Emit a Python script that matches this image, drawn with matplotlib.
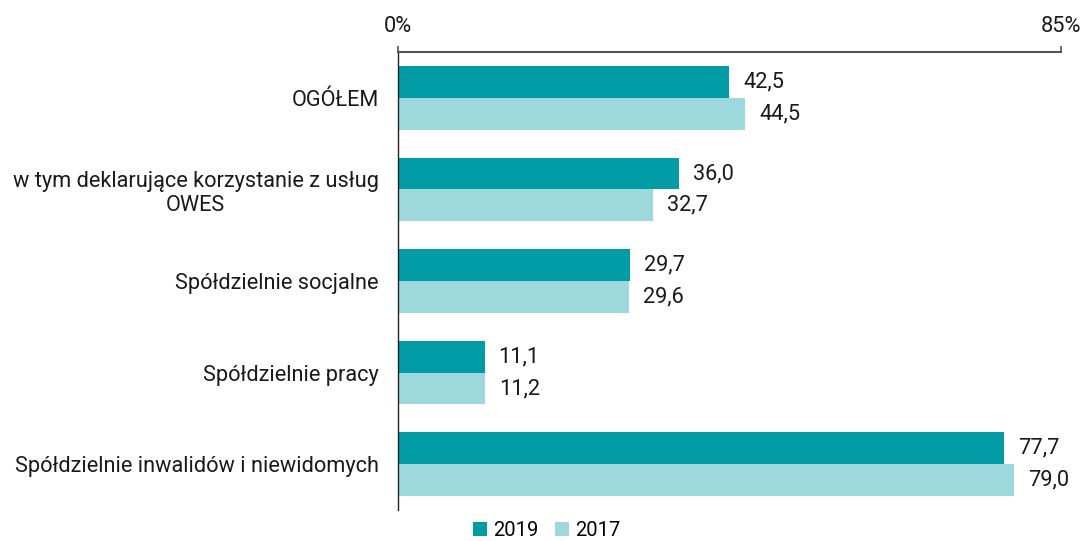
import matplotlib.pyplot as plt
import numpy as np

# ── Data ─────────────────────────────────────────────────────────────────────
categories = [
    "OGÓŁEM",
    "w tym deklarujące korzystanie z usług\nOWES",
    "Spółdzielnie socjalne",
    "Spółdzielnie pracy",
    "Spółdzielnie inwalidów i niewidomych",
]
values_2019 = [42.5, 36.0, 29.7, 11.1, 77.7]
values_2017 = [44.5, 32.7, 29.6, 11.2, 79.0]
series_labels = ["2019", "2017"]

plt.rcParams['font.family'] = ['Roboto', 'DejaVu Sans']
FS = 15.7

fig = plt.figure(figsize=(10.8, 5.41), dpi=100)
ax = fig.add_axes([0.3685, 0.0573, 0.6139, 0.8466])

y = np.arange(len(categories))
h = 0.348
dark = '#009BA5'
light = '#9DD9DC'

ax.barh(y - h / 2, values_2019, height=h, color=dark, label=series_labels[0])
ax.barh(y + h / 2, values_2017, height=h, color=light, label=series_labels[1])

# value labels, offset ~14 px from bar end
for yi, v in zip(y, values_2019):
    ax.annotate(f"{v:.1f}".replace('.', ','), (v, yi - h / 2), xytext=(10, 0),
                textcoords='offset points', va='center', ha='left', fontsize=FS, color='#1a1a1a')
for yi, v in zip(y, values_2017):
    ax.annotate(f"{v:.1f}".replace('.', ','), (v, yi + h / 2), xytext=(10, 0),
                textcoords='offset points', va='center', ha='left', fontsize=FS, color='#1a1a1a')

ax.set_xlim(0, 85)
ax.set_ylim(4.5, -0.5)
ax.xaxis.tick_top()
ax.set_xticks([0, 85])
ax.set_xticklabels(["0%", "85%"], fontsize=FS, color='#1a1a1a')
ax.tick_params(axis='x', direction='out', length=4, width=1.2, color='#555555', pad=7)
ax.set_yticks(y)
ax.set_yticklabels(categories, fontsize=FS, color='#1a1a1a', ha='right', multialignment='center')
ax.tick_params(axis='y', length=0, pad=14)

for side in ['right', 'bottom']:
    ax.spines[side].set_visible(False)
ax.spines['top'].set_color('#555555')
ax.spines['top'].set_linewidth(1.5)
ax.spines['left'].set_color('#222222')
ax.spines['left'].set_linewidth(1.0)

fig.legend(loc='lower center', bbox_to_anchor=(0.506, 0.0), ncol=2, frameon=False,
           fontsize=14.5, handlelength=0.7, handleheight=0.7, handletextpad=0.3,
           columnspacing=0.8, borderpad=0.05, borderaxespad=0)

fig.savefig("out.png", dpi=100)
